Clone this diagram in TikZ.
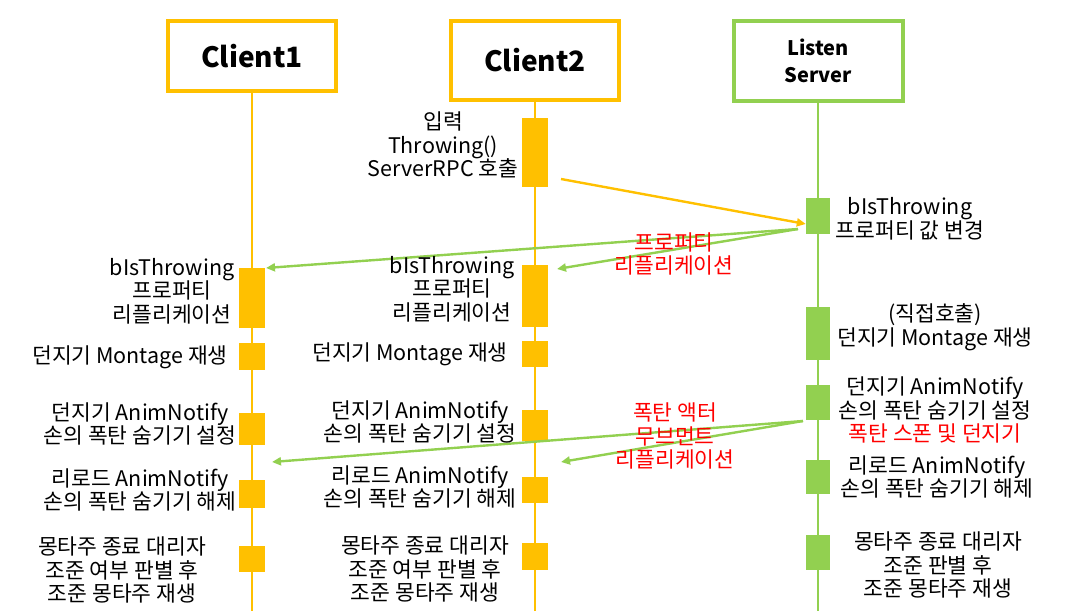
\documentclass[tikz,border=0pt]{standalone}
\usepackage{fontspec}
\setmainfont{Noto Sans CJK KR}
\usetikzlibrary{arrows.meta}
\definecolor{orng}{HTML}{FFC000}
\definecolor{grn}{HTML}{92D050}
\definecolor{rd}{HTML}{FF0000}
\newcommand{\lblfont}{\fontsize{21.5}{23.5}\selectfont}
\tikzset{
  hdr/.style={draw, line width=4pt, fill=white, inner sep=0pt, align=center},
  life/.style={line width=2.6pt},
  actc/.style={fill=orng, minimum width=26pt, inner sep=0pt},
  acts/.style={fill=grn, minimum width=24pt, inner sep=0pt},
  lbl/.style={align=center, inner sep=0pt, font=\lblfont},
  rlbl/.style={lbl, text=rd},
  arr/.style={line width=2.4pt, -{Triangle[length=9pt,width=8pt]}}
}
\begin{document}
\begin{tikzpicture}[x=1pt,y=-1pt]
\useasboundingbox (0,0) rectangle (1085,611);
\coordinate (bot) at (0,611);
% headers
\node[hdr, draw=orng, minimum width=168pt, minimum height=70pt, font=\fontsize{28}{30}\selectfont\bfseries] (h1) at (252,56) {Client1};
\node[hdr, draw=orng, minimum width=168pt, minimum height=79pt, font=\fontsize{28}{30}\selectfont\bfseries] (h2) at (535,60.5) {Client2};
\node[hdr, draw=grn, minimum width=169pt, minimum height=80pt, font=\fontsize{20}{27}\selectfont\bfseries] (h3) at (818,61) {Listen\\Server};
% lifelines
\draw[life, orng] (h1.south) -- (h1.south |- bot);
\draw[life, orng] (h2.south) -- (h2.south |- bot);
\draw[life, grn] (h3.south) -- (h3.south |- bot);
% activation boxes client1
\node[actc, minimum height=60pt] (c1A) at (252,298) {};
\node[actc, minimum height=27pt] (c1B) at (252,356.5) {};
\node[actc, minimum height=32pt] (c1C) at (252,429) {};
\node[actc, minimum height=28pt] (c1D) at (252,494) {};
\node[actc, minimum height=26pt] (c1E) at (252,559) {};
% client2
\node[actc, minimum height=69pt] (c20) at (535,152.5) {};
\node[actc, minimum height=62pt] (c2A) at (535,296) {};
\node[actc, minimum height=26pt] (c2B) at (535,354) {};
\node[actc, minimum height=31pt] (c2C) at (535,425.5) {};
\node[actc, minimum height=26pt] (c2D) at (535,490) {};
\node[actc, minimum height=27pt] (c2E) at (535,556.5) {};
% server
\node[acts, minimum height=36pt] (sA) at (818,216) {};
\node[acts, minimum height=53pt] (sB) at (818,333.5) {};
\node[acts, minimum height=35pt] (sC) at (818,402.5) {};
\node[acts, minimum height=34pt] (sD) at (818,477) {};
\node[acts, minimum height=35pt] (sE) at (818,552.5) {};
% arrows
\coordinate (rpcS) at (561,179);
\draw[arr, orng] (rpcS) -- ([yshift=-8pt]sA.west);
\coordinate (gS1) at (798,229);
\coordinate (gE1) at (266,268);
\coordinate (gE2) at (557,269);
\draw[arr, grn] (gS1) -- (gE1);
\draw[arr, grn] (gS1) -- (gE2);
\coordinate (gS2) at (803,421);
\coordinate (gE3) at (272,462);
\coordinate (gE4) at (561,462);
\draw[arr, grn] (gS2) -- (gE3);
\draw[arr, grn] (gS2) -- (gE4);
% labels
\node[lbl] (t20) at (443,145) {입력\\Throwing()\\ServerRPC 호출};
\node[lbl] (tSA) at (910,219) {bIsThrowing\\프로퍼티 값 변경};
\node[rlbl] (r1) at (674,254) {프로퍼티\\리플리케이션};
\node[lbl] (tC1A) at (172,291) {bIsThrowing\\프로퍼티\\리플리케이션};
\node[lbl] (tC2A) at (452,289) {bIsThrowing\\프로퍼티\\리플리케이션};
\node[lbl] (tC1B) at (130,357) {던지기 Montage 재생};
\node[lbl] (tC2B) at (410,354) {던지기 Montage 재생};
\node[lbl] (tSB) at (935,327) {(직접호출)\\던지기 Montage 재생};
\node[lbl] (tSC) at (935,410) {던지기 AnimNotify\\손의 폭탄 숨기기 설정\\\textcolor{rd}{폭탄 스폰 및 던지기}};
\node[lbl] (tSD) at (937,477) {리로드 AnimNotify\\손의 폭탄 숨기기 해제};
\node[lbl] (tSE) at (938,565) {몽타주 종료 대리자\\조준 판별 후\\조준 몽타주 재생};
\node[lbl] (tC1C) at (140,424) {던지기 AnimNotify\\손의 폭탄 숨기기 설정};
\node[lbl] (tC1D) at (140,490) {리로드 AnimNotify\\손의 폭탄 숨기기 해제};
\node[lbl] (tC1E) at (122,570) {몽타주 종료 대리자\\조준 여부 판별 후\\조준 몽타주 재생};
\node[lbl] (tC2C) at (420,422) {던지기 AnimNotify\\손의 폭탄 숨기기 설정};
\node[lbl] (tC2D) at (420,487) {리로드 AnimNotify\\손의 폭탄 숨기기 해제};
\node[lbl] (tC2E) at (425,569) {몽타주 종료 대리자\\조준 여부 판별 후\\조준 몽타주 재생};
\node[rlbl] (r2) at (675,436) {폭탄 액터\\무브먼트\\리플리케이션};
\end{tikzpicture}
\end{document}
